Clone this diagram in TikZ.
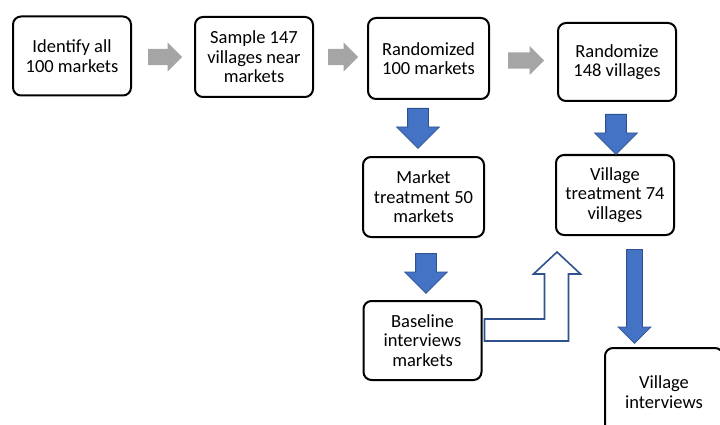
\documentclass[tikz,border=0pt]{standalone}
\usepackage{fontspec}
\setmainfont{Carlito}
\usetikzlibrary{shapes.arrows,calc}
\definecolor{arrowgray}{HTML}{A5A5A5}
\definecolor{blockblue}{HTML}{4472C4}
\definecolor{blockline}{HTML}{2F528F}

\begin{document}
\begin{tikzpicture}[
    x = 1pt, y = -1pt,
    every node/.style = {font = \fontsize{18.5}{19.5}\selectfont},
    stage/.style = {draw, line width = 2pt, rounded corners = 8pt, align = center,
                    minimum width = 118pt, minimum height = 79pt, inner sep = 2pt},
    grayarrow/.style = {single arrow, fill = arrowgray, anchor = tail,
                    inner xsep = 0pt, inner ysep = 8pt, single arrow head extend = 6.5pt},
    bluearrow/.style = {single arrow, fill = blockblue, draw = blockline, line width = 0.8pt,
                    anchor = tail, inner xsep = 0pt, inner ysep = 10pt, rotate = -90,
                    single arrow head extend = 11pt, minimum height = 40pt},
    hollowarrow/.style = {draw = blockline, line width = 1.6pt, fill = white}]

\useasboundingbox (0,0) rectangle (720,425);
\clip (0,0) rectangle (720,425);

% stages
\node[stage] (ident) at (72,56) {Identify all\\100 markets};
\node[stage, minimum height = 80pt] (sample) at (254,57) {Sample 147\\villages near\\markets};
\node[stage, minimum width = 121pt, minimum height = 81pt] (randm) at (428.5,58.5) {Randomized\\100 markets};
\node[stage, minimum height = 78pt] (randv) at (617,62) {Randomize\\148 villages};
\node[stage, minimum width = 121pt, minimum height = 80pt] (mtreat) at (423.5,197) {Market\\treatment 50\\markets};
\node[stage, minimum height = 80pt] (vtreat) at (615,195) {Village\\treatment 74\\villages};
\node[stage] (base) at (422.5,340.5) {Baseline\\interviews\\markets};
\node[stage, minimum height = 88pt] (vint) at (664,392) {Village\\interviews};

% gray arrows along the top row
\node[grayarrow, minimum height = 34pt] (g1) at ($(ident.east)+(16,1)$) {};
\node[grayarrow, minimum height = 30pt] (g2) at ($(sample.east)+(14,0)$) {};
\node[grayarrow, minimum height = 36pt] (g3) at ($(randm.east)+(18,2)$) {};

% blue arrows
\node[bluearrow] (b1) at ($(randm.south)+(-10.5,8)$) {};
\node[bluearrow] (b2) at ($(randv.south)+(-1,12)$) {};
\node[bluearrow] (b3) at ($(mtreat.south)+(2.5,15)$) {};
\node[bluearrow, minimum height = 94pt, inner ysep = 7.5pt,
      single arrow head extend = 8.5pt] (b4) at ($(vtreat.south)+(19.5,13)$) {};

% bent arrow from baseline up to village treatment
\draw[hollowarrow] ($(base.east)+(2,-21.5)$) -- ++(60,0) -- ++(0,-45) -- ++(-11,0)
    -- ++(23.5,-22) -- ++(23.5,22) -- ++(-12,0) -- ++(0,67) -- ++(-84,0) -- cycle;
\end{tikzpicture}
\end{document}
